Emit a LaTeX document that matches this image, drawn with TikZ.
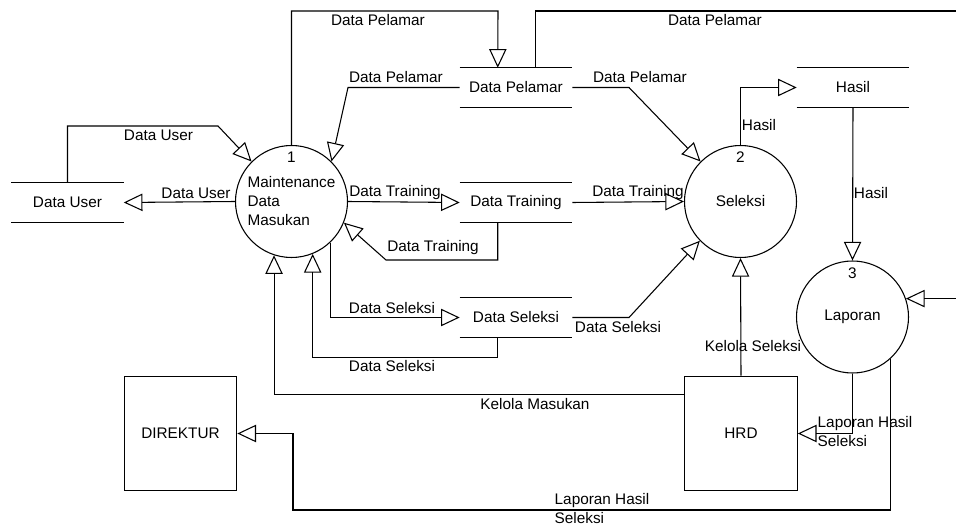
\documentclass[tikz,border=0pt]{standalone}
\usepackage{fontspec}
\setmainfont{Liberation Sans}
\usetikzlibrary{arrows.meta,positioning,calc}

\begin{document}
\begin{tikzpicture}[
    x=0.75pt, y=-0.75pt,
    every node/.style={font=\fontsize{11.5}{14.25}\selectfont},
    proc/.style={circle, draw, line width=0.8pt, minimum size=84pt, inner sep=0pt, align=left},
    num/.style={inner sep=0pt},
    store/.style={minimum width=84pt, minimum height=29.25pt, inner sep=0pt},
    entity/.style={rectangle, draw, line width=0.8pt, minimum width=84.5pt, minimum height=86pt},
    lbl/.style={inner sep=0pt, align=left},
    arrow/.style={-{Triangle[open, length=14pt, width=13pt]}, line width=0.8pt}
]
\clip (0,0) rectangle (956,527);

% Processes
\node[proc] (p1) at (291.5,201.5) {Maintenance\\Data\\Masukan};
\node[num, below=5pt of p1.north] (n1) {1};
\node[proc] (p2) at (740.5,201.5) {Seleksi};
\node[num, below=5pt of p2.north] (n2) {2};
\node[proc] (p3) at (852.5,317) {Laporan};
\node[num, below=5pt of p3.north] (n3) {3};

% Data stores
\node[store] (su) at (67.5,202.5) {Data User};
\node[store] (sp) at (516,87.5) {Data Pelamar};
\node[store] (st) at (516,202.5) {Data Training};
\node[store] (ss) at (516,317.5) {Data Seleksi};
\node[store] (sh) at (853,87.5) {Hasil};
\foreach \s in {su,sp,st,ss,sh}
    \draw[line width=0.8pt] (\s.north west) -- (\s.north east) (\s.south west) -- (\s.south east);

% External entities
\node[entity] (dir) at (180.5,433.5) {DIREKTUR};
\node[entity] (hrd) at (741,433.5) {HRD};

% Flow labels
\node[lbl] (lpel1) at (378,20) {Data Pelamar};
\node[lbl] (lpel2) at (715,20) {Data Pelamar};
\node[lbl] (lpel3) at (396,77) {Data Pelamar};
\node[lbl] (lpel4) at (640,77) {Data Pelamar};
\node[lbl] (lusr1) at (158.5,135) {Data User};
\node[lbl] (lusr2) at (196,193) {Data User};
\node[lbl] (ltr1) at (395,193) {Data Training};
\node[lbl] (ltr2) at (433,248) {Data Training};
\node[lbl] (ltr3) at (638,193) {Data Training};
\node[lbl] (lhs1) at (759,125) {Hasil};
\node[lbl] (lhs2) at (871,193) {Hasil};
\node[lbl] (lsel1) at (392,308) {Data Seleksi};
\node[lbl] (lsel2) at (392,366) {Data Seleksi};
\node[lbl] (lsel3) at (618,327) {Data Seleksi};
\node[lbl] (lkel1) at (753,346) {Kelola Seleksi};
\node[lbl] (lkel2) at (535,404) {Kelola Masukan};
\node[lbl] (llap1) at (865,432) {Laporan Hasil\\Seleksi};
\node[lbl] (llap2) at (602,508.5) {Laporan Hasil\\Seleksi};

% Arrows
\draw[arrow] (su.north) |- (218,126) -- (p1.135);
\draw[arrow] (p1.west) -- (su.east);
\draw[arrow] (sp.west) -- (348,87.5) -- (p1.45);
\draw[arrow] (p1.north) |- (498,11) -- ($(sp.north west)+(38,0)$);
\draw[arrow] ($(sp.north west)+(76,0)$) |- (975,11) |- (p3.19);
\draw[arrow] (p1.east) -- (st.west);
\draw[arrow] ($(st.south west)+(38,0)$) |- (386,260) -- (p1.-22);
\draw[arrow] (sp.east) -- (629,87.5) -- (p2.135);
\draw[arrow] (st.east) -- (p2.west);
\draw[arrow] (p2.north) |- (sh.west);
\draw[arrow] (sh.south) -- (p3.north);
\draw[arrow] (p1.-47) |- (ss.west);
\draw[arrow] ($(ss.south west)+(38,0)$) -- ++(0,20) -| (p1.-68);
\draw[arrow] (ss.east) -- (629,317.5) -- (p2.-136);
\draw[arrow] ($(hrd.north west)+(0,19)$) -| (p1.-108);
\draw[arrow] (hrd.north) -- (p2.south);
\draw[arrow] (p3.south) |- (hrd.east);
\draw[arrow] (p3.-48) |- (293,510) |- (dir.east);

\end{tikzpicture}
\end{document}
